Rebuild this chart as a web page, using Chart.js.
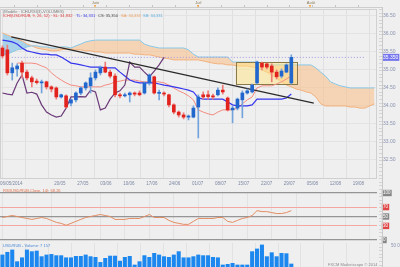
<!DOCTYPE html>
<html><head><meta charset="utf-8">
<script src="https://cdn.jsdelivr.net/npm/chart.js@4.4.1/dist/chart.umd.min.js"></script>
<style>
html,body{margin:0;padding:0;background:#efefef;}
#wrap{position:relative;width:400px;height:267px;overflow:hidden;background:#efefef;font-family:"Liberation Sans",Arial,sans-serif;}
.pane{position:absolute;left:0;width:400px;}
.t{position:absolute;white-space:nowrap;line-height:1;font-size:4px;}
</style></head><body>
<div id="wrap">
 <div class="pane" style="top:-10px;height:200px"><canvas id="main"></canvas></div>
 <div class="pane" style="top:181px;height:70px"><canvas id="rsi"></canvas></div>
 <div class="pane" style="top:232px;height:45px"><canvas id="vol"></canvas></div>
 <div style="position:absolute;left:0;top:7px;width:382px;height:1px;background:#cdcdcd"></div>
 <div style="position:absolute;left:382px;top:7px;width:1px;height:260px;background:#c8c8c8"></div>
 <div style="position:absolute;left:379px;top:9px;width:3px;height:258px;background:repeating-linear-gradient(to bottom,#d4d4d4 0,#d4d4d4 1px,transparent 1px,transparent 3.6px)"></div>
 <div class="t" style="left:3px;top:10px;color:#7a7a7a">(Modèle : ICHI-RSI(3)-VOLUMES)</div>
 <div class="t" style="left:3px;top:13.5px;color:#e03a3a">ICHI(USD/RUB, 9, 26, 52) ·</div>
 <div class="t" style="left:53px;top:13.5px;color:#e03a3a">SL: 34,832</div>
 <div class="t" style="left:76px;top:13.5px;color:#3a3aee">TL: 34,331</div>
 <div class="t" style="left:98px;top:13.5px;color:#444444">CS: 35,350</div>
 <div class="t" style="left:121px;top:13.5px;color:#eea060">SA: 34,333</div>
 <div class="t" style="left:143px;top:13.5px;color:#5fb0e0">SB: 34,331</div>
 <div class="t" style="left:3px;top:188.5px;color:#e0704a">RSI(USD/RUB,Close, 14): 68,26</div>
 <div class="t" style="left:3px;top:244px;color:#4a8ad8">USD/RUB - Volume: 7 157</div>
 <div class="t" style="left:328px;top:262.5px;color:#8a8a8a">FXCM Marketscope © 2014</div>
</div>
<script>
// ---- categories (trading days) ----
const days = ['06/05','07/05','08/05','09/05','12/05','13/05','14/05','15/05','16/05','19/05','20/05','21/05','22/05','23/05','26/05','27/05','28/05','29/05','30/05',
'02/06','03/06','04/06','05/06','06/06','09/06','10/06','11/06','12/06','13/06','16/06','17/06','18/06','19/06','20/06','23/06','24/06','25/06','26/06','27/06','30/06',
'01/07','02/07','03/07','04/07','07/07','08/07','09/07','10/07','11/07','14/07','15/07','16/07','17/07','18/07','21/07','22/07','23/07','24/07','25/07','28/07','29/07','30/07','31/07',
'01/08','04/08','05/08','06/08','07/08','08/08','11/08','12/08','13/08','14/08','15/08','18/08','19/08','20/08'];
const tickIdx = [0,10,15,20,25,30,35,40,45,50,55,60,65,70,75];
const tickText = ['06/05/2014','20/05','27/05','03/06','10/06','17/06','24/06','01/07','08/07','15/07','22/07','29/07','05/08','12/08','19/08'];
const gridIdx = [0,5,10,15,20,25,30,35,40,45,50,55,60,65,70,75];
const monthIdx = [19,40,63];
const monthText = ['Juin','Juil','Août'];
const priceTicks = [32.5,33,33.5,34,34.5,35,35.5,36,36.5];
const rsiLevels = [0,30,50,70,100];

// ---- candles ----
const opens = [35.61,35.56,34.92,35.03,35.19,34.94,34.78,34.69,34.64,34.67,34.53,34.50,34.25,34.28,34.08,34.17,34.36,34.50,34.56,34.78,
34.92,35.08,34.94,34.83,34.31,34.28,34.31,34.36,34.36,34.36,34.64,34.81,34.35,34.36,34.31,34.03,33.83,33.75,33.69,33.69,
33.97,34.31,34.31,34.28,34.31,34.44,34.22,33.89,33.94,34.17,34.36,34.39,34.64,35.19,35.17,35.11,34.94,34.83,34.94,34.64];
const highs = [35.67,35.69,35.19,35.17,35.25,35.00,34.83,34.75,34.72,34.69,34.56,34.53,34.33,34.31,34.19,34.39,34.53,34.67,34.92,35.00,
35.11,35.22,35.00,34.89,34.36,34.36,34.39,34.39,34.42,34.67,34.89,34.83,34.44,34.39,34.33,34.06,33.86,33.81,33.75,34.00,
34.31,34.39,34.42,34.33,34.50,34.58,34.25,34.00,34.22,34.42,34.47,34.61,35.25,35.22,35.19,35.17,35.00,35.03,35.17,35.42];
const lows = [35.33,34.86,34.72,34.83,34.78,34.72,34.53,34.61,34.36,34.47,34.39,34.19,34.22,33.94,34.00,34.11,34.31,34.44,34.36,34.72,
34.86,34.92,34.78,34.25,34.22,34.25,34.11,34.28,34.28,34.33,34.58,34.33,34.17,34.28,33.97,33.78,33.69,33.64,33.61,33.67,
33.11,34.19,34.19,34.19,34.28,34.33,33.86,33.53,33.89,33.67,34.33,34.36,34.61,35.00,35.03,34.67,34.75,34.78,34.92,34.61];
const closes = [35.39,34.92,35.06,35.11,34.94,34.78,34.67,34.65,34.67,34.53,34.47,34.25,34.31,33.97,34.17,34.36,34.50,34.64,34.78,34.94,
35.06,34.94,34.83,34.31,34.28,34.31,34.36,34.33,34.31,34.64,34.86,34.36,34.38,34.33,34.03,33.83,33.75,33.69,33.72,33.94,
34.25,34.25,34.26,34.25,34.44,34.39,33.89,33.94,34.19,34.36,34.42,34.58,35.22,35.08,35.08,34.94,34.81,34.97,35.14,35.35];
const lastClose = 35.35;

// ---- ichimoku ----
const tenkan = [35.83,35.81,35.78,35.72,35.61,35.53,35.50,35.47,35.44,35.44,35.42,35.42,35.36,35.28,35.19,35.17,35.14,35.11,35.08,35.08,
35.08,35.06,35.06,35.06,34.94,34.83,34.72,34.67,34.64,34.64,34.64,34.64,34.61,34.58,34.56,34.53,34.50,34.47,34.44,34.39,
34.22,34.19,34.19,34.19,34.19,34.19,34.11,34.03,34.00,34.00,34.00,34.03,34.19,34.19,34.19,34.19,34.19,34.19,34.22,34.33];
const kijun = [null,null,null,35.19,35.19,35.19,35.19,35.17,35.11,35.06,34.92,34.81,34.72,34.64,34.58,34.56,34.53,34.53,34.53,34.53,
34.53,34.58,34.61,34.67,34.69,34.72,34.72,34.72,34.69,34.67,34.67,34.67,34.67,34.64,34.58,34.50,34.42,34.36,34.28,34.17,
33.89,33.83,33.78,33.75,33.83,33.89,33.89,33.89,33.94,34.06,34.17,34.25,34.50,34.56,34.56,34.56,34.61,34.67,34.75,34.83];
const chikou = [34.36,34.33,34.31,34.64,34.86,34.36,34.38,34.33,34.03,33.83,33.75,33.69,33.72,33.94,34.25,34.25,34.26,34.25,34.44,34.39,
33.89,33.94,34.19,34.36,34.42,34.58,35.22,35.08,35.08,34.94,34.81,34.97,35.14,35.35];
const senkouA = [36.03,35.97,35.92,35.86,35.81,35.72,35.67,35.61,35.58,35.56,35.53,35.53,35.56,35.58,35.58,35.56,35.56,35.53,35.53,35.50,
35.50,35.47,35.47,35.47,35.47,35.47,35.47,35.44,35.44,35.42,35.42,35.39,35.36,35.33,35.31,35.28,35.28,35.28,35.28,35.28,
35.28,35.25,35.22,35.19,35.17,35.17,35.14,35.14,35.11,35.11,35.11,35.08,35.06,35.00,34.94,34.86,34.78,34.67,34.58,34.53,
34.47,34.44,34.39,34.36,34.25,34.06,34.00,34.00,34.00,34.00,34.00,33.97,33.97,33.94,33.94,34.00,34.06];
const senkouB = [35.42,35.44,35.50,35.56,35.58,35.64,35.67,35.67,35.64,35.64,35.61,35.61,35.64,35.64,35.61,35.67,35.72,35.78,35.81,35.83,
35.83,35.83,35.83,35.83,35.83,35.83,35.83,35.83,35.83,35.72,35.67,35.64,35.61,35.61,35.61,35.61,35.61,35.61,35.56,35.44,
35.36,35.36,35.36,35.36,35.36,35.36,35.36,35.22,35.22,35.22,35.22,35.22,35.22,35.14,35.14,35.14,35.14,35.14,35.14,35.14,
35.14,35.14,35.14,35.14,35.06,34.94,34.83,34.67,34.61,34.56,34.53,34.50,34.50,34.50,34.50,34.50,34.50];

// ---- annotations ----
const trendX = [-0.6, 65.3];
const trendY = [35.92, 34.08];
const zoneStart = 48.3, zoneEnd = 61.5, zoneHigh = 35.22, zoneLow = 34.61;

// ---- RSI & volume ----
const rsi = [47.9,50,52.1,50,47.9,45.8,43.8,45.8,47.9,45.8,41.7,37.5,35.4,31.3,35.4,39.6,43.8,47.9,50,52.1,
54.2,52.1,50,43.8,43.8,43.8,45.8,45.8,45.8,50,54.2,47.9,47.9,47.9,41.7,37.5,35.4,33.3,33.3,39.6,
45.8,45.8,45.8,45.8,47.9,47.9,39.6,37.5,41.7,45.8,47.9,52.1,62.5,60.4,60.4,58.3,56.3,56.3,58.3,62.5];
const volume = [28600,35000,40500,12700,22000,40500,36500,38000,24600,28600,30000,27000,27000,22000,22000,25400,25400,28600,24600,23000,
11000,20600,26000,26000,14000,23000,25400,4800,12700,27000,23000,32500,28600,24600,23000,28600,36500,22000,22000,24600,
28600,27000,27000,23000,22000,4800,6300,8700,4800,4800,4800,36500,42900,52400,24600,34000,24600,32500,31700,7157];

// ---- build ----
const N = days.length;
const up = opens.map((o, i) => closes[i] >= o);
const bodyData = opens.map((o, i) => [o, closes[i]]);
const wickData = lows.map((l, i) => [l, highs[i]]);
const FONT = 'Liberation Sans';

const gridAxis = (color) => ({
  type: 'linear', axis: 'x', position: 'bottom', min: -0.5, max: N - 0.5,
  grid: { color: color, drawTicks: false, lineWidth: 1 },
  border: { display: false },
  ticks: { display: false },
  afterBuildTicks: a => { a.ticks = gridIdx.map(v => ({ value: v })); },
  afterFit: a => { a.height = 0; }
});

const framePlugin = {
  id: 'frame',
  beforeDatasetsDraw(chart) {
    const { ctx, chartArea: a } = chart;
    ctx.save();
    ctx.strokeStyle = '#d0d0d0'; ctx.lineWidth = 1;
    ctx.strokeRect(a.left + 0.5, a.top + 0.5, a.width - 1, a.height - 1);
    ctx.restore();
  }
};
const zonePlugin = {
  id: 'zone',
  afterDatasetDraw(chart, args) {
    if (chart.data.datasets[args.index].label !== 'SB') return;
    const xs = chart.scales.xl, ys = chart.scales.y, ctx = chart.ctx;
    const x0 = xs.getPixelForValue(zoneStart), x1 = xs.getPixelForValue(zoneEnd);
    const y0 = ys.getPixelForValue(zoneHigh), y1 = ys.getPixelForValue(zoneLow);
    ctx.save();
    ctx.fillStyle = 'rgba(255,228,130,0.5)';
    ctx.fillRect(x0, y0, x1 - x0, y1 - y0);
    ctx.strokeStyle = '#8a7a4a'; ctx.lineWidth = 1;
    ctx.strokeRect(Math.round(x0) + 0.5, Math.round(y0) + 0.5, Math.round(x1 - x0), Math.round(y1 - y0));
    ctx.restore();
  }
};

const mainChart = new Chart(document.getElementById('main'), {
  type: 'bar',
  data: {
    labels: days,
    datasets: [
      { type: 'line', label: 'SA', data: senkouA, borderColor: '#f2b07c', borderWidth: 1, pointRadius: 0,
        fill: { target: '+1', above: 'rgba(120,190,230,0.6)', below: 'rgba(248,196,146,0.62)' }, order: 10 },
      { type: 'line', label: 'SB', data: senkouB, borderColor: '#88c8e6', borderWidth: 1, pointRadius: 0, fill: false, order: 9 },
      { type: 'line', label: 'close', xAxisID: 'xl', data: [{ x: -0.5, y: lastClose }, { x: N - 0.5, y: lastClose }],
        borderColor: '#a595df', borderWidth: 1, borderDash: [1, 2], pointRadius: 0, order: 8 },
      { type: 'line', label: 'SL', data: kijun, borderColor: '#f28b80', borderWidth: 1, pointRadius: 0, order: 6 },
      { type: 'line', label: 'TL', data: tenkan, borderColor: '#3535ee', borderWidth: 1.2, pointRadius: 0, order: 5 },
      { type: 'line', label: 'CS', data: chikou, borderColor: '#6b3a78', borderWidth: 1.2, pointRadius: 0, order: 4 },
      { type: 'line', label: 'trend', xAxisID: 'xl', data: trendX.map((x, i) => ({ x: x, y: trendY[i] })),
        borderColor: '#2a2a2a', borderWidth: 1.2, pointRadius: 0, order: 3 },
      { type: 'bar', label: 'wick', data: wickData, backgroundColor: up.map(u => u ? '#74a3dc' : '#ee7c78'),
        barThickness: 1, grouped: false, order: 1 },
      { type: 'bar', label: 'body', data: bodyData, backgroundColor: up.map(u => u ? '#2166cc' : '#e2221d'),
        barThickness: 3, grouped: false, minBarLength: 1, order: 0 }
    ]
  },
  options: {
    responsive: true, maintainAspectRatio: false, animation: false,
    layout: { padding: { top: 19, left: 0, right: 0, bottom: 11 } },
    plugins: { legend: { display: false }, tooltip: { enabled: false } },
    scales: {
      x: { type: 'category', display: false, offset: true },
      xl: gridAxis('#e0e0e0'),
      y: {
        position: 'right', min: 31.97, max: 36.694,
        grid: { color: c => (c.tick && c.tick.value === lastClose) ? 'rgba(0,0,0,0)' : '#e3e3e3', drawTicks: false },
        border: { display: false },
        ticks: {
          autoSkip: false, padding: 6,
          font: { family: FONT, size: 5 },
          color: c => c.tick.value === lastClose ? '#ffffff' : '#8a93b0',
          showLabelBackdrop: c => c.tick.value === lastClose,
          backdropColor: '#7474ee', backdropPadding: { x: 1, y: 0.5 },
          callback: v => v === lastClose ? v.toFixed(3) : v.toFixed(2)
        },
        afterBuildTicks: a => { a.ticks = priceTicks.concat([lastClose]).map(v => ({ value: v })); },
        afterFit: a => { a.width = 23; }
      }
    }
  },
  plugins: [framePlugin, zonePlugin]
});

new Chart(document.getElementById('rsi'), {
  type: 'line',
  data: { labels: days, datasets: [{ data: rsi, borderColor: '#e28c62', borderWidth: 1, pointRadius: 0 }] },
  options: {
    responsive: true, maintainAspectRatio: false, animation: false,
    layout: { padding: { top: 12, left: 0, right: 0, bottom: 11 } },
    plugins: { legend: { display: false }, tooltip: { enabled: false } },
    scales: {
      x: { type: 'category', display: false, offset: true },
      xl: gridAxis('#e2e2e2'),
      y: {
        position: 'right', min: 0, max: 100,
        grid: { color: c => (c.tick && (c.tick.value === 70 || c.tick.value === 30)) ? '#f3a7a0' : '#959595',
                lineWidth: c => (c.tick && (c.tick.value === 70 || c.tick.value === 30)) ? 1 : 1.3, drawTicks: false },
        border: { display: false },
        ticks: {
          autoSkip: false, padding: 6, font: { family: FONT, size: 4.5 }, color: '#ffffff',
          showLabelBackdrop: true,
          backdropColor: c => (c.tick.value === 70 || c.tick.value === 30) ? '#e04646' : '#868686',
          backdropPadding: { x: 1.2, y: 0.5 }
        },
        afterBuildTicks: a => { a.ticks = rsiLevels.map(v => ({ value: v })); },
        afterFit: a => { a.width = 23; }
      }
    }
  }
});

new Chart(document.getElementById('vol'), {
  type: 'bar',
  data: { labels: days, datasets: [{ data: volume, backgroundColor: '#1b87ef', barThickness: 3.4 }] },
  options: {
    responsive: true, maintainAspectRatio: false, animation: false,
    layout: { padding: { top: 11, left: 0, right: 0, bottom: 10 } },
    plugins: { legend: { display: false }, tooltip: { enabled: false } },
    scales: {
      x: { type: 'category', display: false, offset: true },
      xl: gridAxis('#e2e2e2'),
      y: {
        position: 'right', min: 0, max: 57000,
        grid: { display: false }, border: { display: false },
        ticks: { autoSkip: false, padding: 6, font: { family: FONT, size: 4.5 }, color: '#8a93b0', callback: () => '50 000' },
        afterBuildTicks: a => { a.ticks = [{ value: 50000 }]; },
        afterFit: a => { a.width = 23; }
      }
    }
  }
});

// ---- HTML labels positioned through the chart's scales ----
const wrap = document.getElementById('wrap');
const xl = mainChart.scales.xl, xc = mainChart.scales.x;
function addText(txt, left, top, color, size, center) {
  const d = document.createElement('div');
  d.className = 't';
  d.textContent = txt;
  d.style.left = left + 'px'; d.style.top = top + 'px';
  d.style.color = color; d.style.fontSize = size + 'px';
  if (center) d.style.transform = 'translateX(-50%)';
  wrap.appendChild(d);
}
tickIdx.forEach((v, k) => {
  const px = xl.getPixelForValue(v);
  if (k === 0) addText(tickText[k], 0, 182, '#7d87a3', 4.5, false);
  else addText(tickText[k], px, 182, '#7d87a3', 4.5, true);
});
gridIdx.forEach(v => {
  const px = xl.getPixelForValue(v);
  const d = document.createElement('div');
  d.style.cssText = 'position:absolute;top:5px;width:1px;height:2px;background:#c4c4c4;left:' + Math.round(px) + 'px';
  wrap.appendChild(d);
});
monthIdx.forEach((v, k) => {
  const px = xc.getPixelForValue(v);
  addText(monthText[k], px, 0.5, '#8a7a5a', 4, true);
  const tri = document.createElement('div');
  tri.style.cssText = 'position:absolute;top:4.5px;width:0;height:0;border-left:1.6px solid transparent;border-right:1.6px solid transparent;border-top:3px solid #f0a030;left:' + (px - 1.6) + 'px';
  wrap.appendChild(tri);
});
</script>
</body></html>
